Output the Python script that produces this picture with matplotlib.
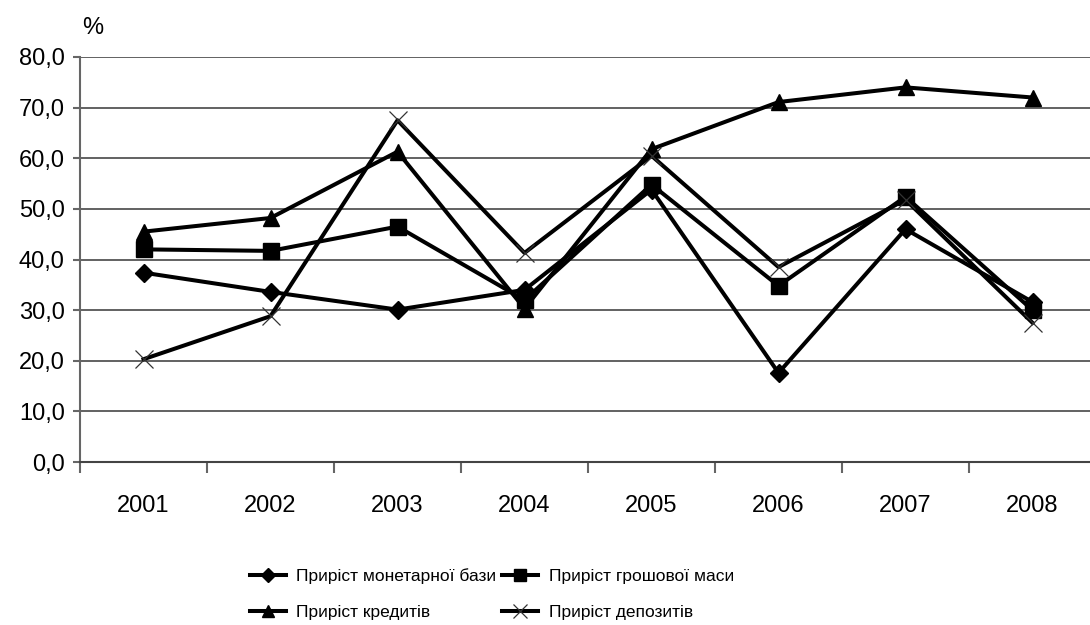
import matplotlib
matplotlib.use("Agg")
import matplotlib.pyplot as plt

plt.rcParams['font.family'] = ['Liberation Sans', 'DejaVu Sans']

# Роки та показники приросту, %
years = ['2001', '2002', '2003', '2004', '2005', '2006', '2007', '2008']
monetary_base = [37.4, 33.6, 30.1, 34.0, 53.8, 17.6, 46.0, 31.6]
money_supply = [42.0, 41.7, 46.5, 32.0, 54.8, 34.8, 52.4, 30.0]
credits = [45.5, 48.2, 61.3, 30.3, 61.8, 71.1, 74.0, 72.0]
deposits = [20.3, 28.8, 67.5, 41.3, 60.5, 38.5, 51.8, 27.5]

labels = ['Приріст монетарної бази', 'Приріст грошової маси',
          'Приріст кредитів', 'Приріст депозитів']

fig = plt.figure(figsize=(10.9, 6.25), dpi=100)
ax = fig.add_axes([80 / 1090, 1 - 462 / 625, 1016 / 1090, 405 / 625])

x = list(range(len(years)))
lw = 2.9
l1, = ax.plot(x, monetary_base, color='black', lw=lw, marker='D', ms=9, label=labels[0], zorder=3)
l2, = ax.plot(x, money_supply, color='black', lw=lw, marker='s', ms=11, label=labels[1], zorder=3)
l3, = ax.plot(x, credits, color='black', lw=lw, marker='^', ms=11, label=labels[2], zorder=3)
l4, = ax.plot(x, deposits, color='black', lw=lw, marker='x', ms=13, mew=0.9,
              mec='#333333', label=labels[3], zorder=3)

ax.set_xlim(-0.5, 7.5)
ax.set_ylim(0, 80)
ax.set_yticks(range(0, 81, 10))
ax.set_yticklabels([f'{v},0' for v in range(0, 81, 10)], fontsize=17)
ax.set_xticks(x)
ax.set_xticklabels(years, fontsize=17)
ax.set_xticks([i - 0.5 for i in range(len(years) + 1)], minor=True)
ax.tick_params(axis='x', which='major', length=0, pad=24)
ax.tick_params(axis='x', which='minor', length=8, width=1.5, color='#666666')
ax.tick_params(axis='y', length=5, width=1.5, color='#666666', pad=6)

ax.grid(axis='y', color='#555555', lw=1.3)
ax.set_axisbelow(True)
for side in ['top', 'right']:
    ax.spines[side].set_visible(False)
ax.spines['left'].set_color('#666666')
ax.spines['left'].set_linewidth(1.5)
ax.spines['bottom'].set_color('#444444')
ax.spines['bottom'].set_linewidth(1.5)

fig.text(93 / 1090, 1 - 28 / 625, '%', fontsize=17, ha='center', va='center')

# легенда по рядках: перший рядок — база і маса, другий — кредити і депозити
ax.legend([l1, l3, l2, l4], [labels[0], labels[2], labels[1], labels[3]],
          loc='upper left', bbox_to_anchor=(234 / 1090, 1 - 553 / 625),
          bbox_transform=fig.transFigure, ncol=2, frameon=False, fontsize=12.5,
          markerscale=0.8, handlelength=2.1, handletextpad=0.6,
          columnspacing=0.3, labelspacing=1.2)

fig.savefig('out.png', dpi=100)
